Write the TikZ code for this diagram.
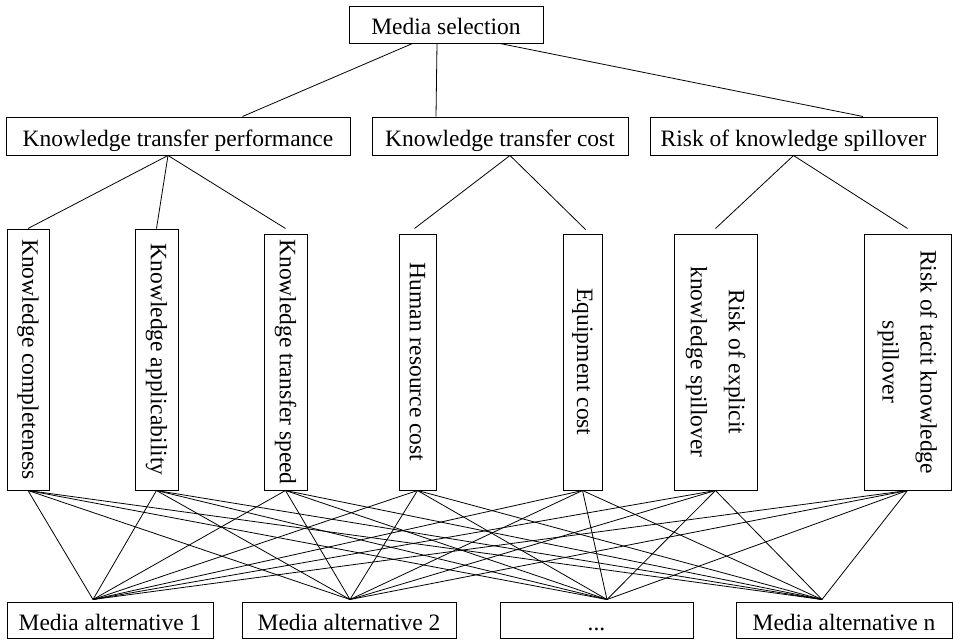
\documentclass[tikz,border=0pt]{standalone}
\usepackage{fontspec}
\setmainfont{Liberation Serif}
\usetikzlibrary{calc}
\begin{document}
\begin{tikzpicture}[x=1pt,y=-1pt,
  box/.style={draw,line width=1pt,inner sep=0pt,font=\fontsize{23.5}{38}\selectfont,align=center},
  hbox/.style={box,text height=21pt,text depth=1pt},
  vbox/.style={box,rotate=-90},
  link/.style={line width=0.8pt}]
\useasboundingbox (0,0) rectangle (953,640);
% level 1
\node[hbox,minimum width=194pt,minimum height=37pt] (ms) at (446,24.5) {Media selection};
% level 2
\node[hbox,minimum width=344pt,minimum height=38pt] (ktp) at (178,136) {Knowledge transfer performance};
\node[hbox,minimum width=256pt,minimum height=38pt] (ktc) at (500,136) {Knowledge transfer cost};
\node[hbox,minimum width=287pt,minimum height=38pt] (rks) at (793.5,136) {Risk of knowledge spillover};
% level 3 (rotated: width = vertical extent, height = horizontal extent)
\node[vbox,minimum width=261pt,minimum height=42pt] (kc) at (28,359.5) {Knowledge completeness};
\node[vbox,minimum width=261pt,minimum height=43pt] (ka) at (156.5,359.5) {Knowledge applicability};
\node[vbox,minimum width=256pt,minimum height=43pt] (kts) at (285.5,362) {Knowledge transfer speed};
\node[vbox,minimum width=256pt,minimum height=37pt] (hrc) at (417.5,362) {Human resource cost};
\node[vbox,minimum width=256pt,minimum height=39pt] (ec) at (582.5,362) {Equipment cost};
\node[vbox,minimum width=256pt,minimum height=83pt] (ers) at (715.5,362) {Risk of explicit\\knowledge spillover};
\node[vbox,minimum width=256pt,minimum height=87pt] (trs) at (907.5,362) {Risk of tacit knowledge\\spillover};
% level 4
\node[hbox,minimum width=206pt,minimum height=36pt] (ma1) at (110,620) {Media alternative 1};
\node[hbox,minimum width=214pt,minimum height=36pt] (ma2) at (349,620) {Media alternative 2};
\node[hbox,minimum width=193pt,minimum height=36pt] (dots) at (596.5,620) {...};
\node[hbox,minimum width=216pt,minimum height=36pt] (man) at (844,620) {Media alternative n};
% attachment points
\coordinate (p1) at ($(ktp.south)+(-10,0)$);
\coordinate (p2) at ($(ktc.south)+(10,0)$);
\coordinate (p3) at (rks.south);
\coordinate (c1) at ($(ma1.north)+(-17,-2)$);
\coordinate (c2) at ($(ma2.north)+(1,-2)$);
\coordinate (c3) at ($(dots.north)+(10.5,-2)$);
\coordinate (c4) at ($(man.north)+(-22,-2)$);
% level 1 -> 2
\draw[link] ($(ms.south west)+(64,0)$) -- ($(ktp.north west)+(237,0)$);
\draw[link] ($(ms.south)+(-9,0)$) -- ($(ktc.north)+(-64,0)$);
\draw[link] ($(ms.south)+(54,0)$) -- ($(rks.north)+(69.5,0)$);
% level 2 -> 3
\draw[link] (p1) -- (kc.west);
\draw[link] (p1) -- (ka.west);
\draw[link] (p1) -- ($(kts.west)+(0,-5)$);
\draw[link] (p2) -- ($(hrc.west)+(-3,-5)$);
\draw[link] (p2) -- ($(ec.west)+(3,-4)$);
\draw[link] (p3) -- ($(ers.west)+(0,-5)$);
\draw[link] (p3) -- ($(trs.west)+(0,-5)$);
% level 3 -> 4
\foreach \a in {kc,ka,kts,hrc,ec,ers,trs}
  \foreach \b in {c1,c2,c3,c4}
    \draw[link] (\a.east) -- (\b);
\end{tikzpicture}
\end{document}
